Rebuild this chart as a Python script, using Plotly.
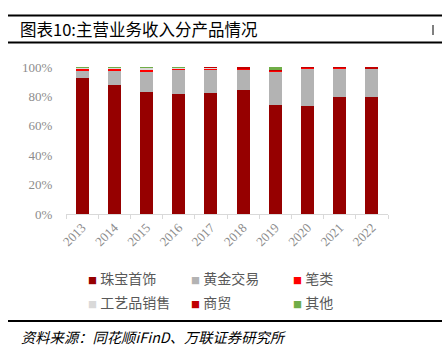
import plotly.graph_objects as go

years = ['2013', '2014', '2015', '2016', '2017', '2018', '2019', '2020', '2021', '2022']
jewelry = [92.2, 88.0, 83.3, 81.4, 82.0, 84.1, 74.3, 73.8, 79.8, 79.8]
gold = [5.2, 9.5, 13.6, 16.8, 16.6, 14.5, 22.4, 25.3, 19.3, 19.0]
pen = [1.4, 1.4, 1.4, 0.8, 0.5, 0.3, 0.7, 0.6, 0.7, 0.3]
craft = [0.8, 0.8, 1.2, 0.6, 0.3, 0.2, 0.1, 0.2, 0.1, 0.2]
trade = [0.3, 0.2, 0.4, 0.3, 0.6, 0.9, 0.5, 0.1, 0.1, 0.7]
other = [0.1, 0.1, 0.1, 0.1, 0.0, 0.0, 2.0, 0.0, 0.0, 0.0]

y_ticks = [0, 20, 40, 60, 80, 100]
y_tick_labels = ['0%', '20%', '40%', '60%', '80%', '100%']

names = ['珠宝首饰', '黄金交易', '笔类', '工艺品销售', '商贸', '其他']
colors = ['#960000', '#B3B3B3', '#FF0000', '#D9D9D9', '#C00000', '#70AD47']
series = [jewelry, gold, pen, craft, trade, other]

W, H = 442, 348
L, R, T, B = 66, 54, 67, 134
PW, PH = W - L - R, H - T - B

def px_x(x):
    return (x - L) / PW

def px_y(y):
    return (H - B - y) / PH

fig = go.Figure()
for name, color, vals in zip(names, colors, series):
    fig.add_trace(go.Bar(x=years, y=vals, name=name, marker_color=color,
                         marker_line_width=0, width=0.4, showlegend=False))

tick_font = dict(family='Liberation Serif, Times New Roman, serif', size=13, color='#8C8C8C')

fig.update_layout(
    width=W, height=H, barmode='stack',
    margin=dict(l=L, r=R, t=T, b=B, pad=0),
    plot_bgcolor='white', paper_bgcolor='white',
    xaxis=dict(showline=True, linecolor='#D9D9D9', linewidth=1, ticks='outside',
               tickson='boundaries', ticklen=4, tickcolor='#D9D9D9',
               tickangle=-45, tickfont=tick_font, showgrid=False),
    yaxis=dict(range=[0, 100], tickmode='array', tickvals=y_ticks, ticktext=y_tick_labels,
               showgrid=False, zeroline=False, showline=False, ticks='outside',
               ticklen=10, tickcolor='rgba(0,0,0,0)', tickfont=tick_font),
)

shapes = [
    dict(type='line', xref='paper', yref='paper', x0=px_x(8), x1=px_x(442), y0=px_y(15.5), y1=px_y(15.5),
         line=dict(color='black', width=2.2)),
    dict(type='line', xref='paper', yref='paper', x0=px_x(8), x1=px_x(442), y0=px_y(42.5), y1=px_y(42.5),
         line=dict(color='black', width=2.2)),
    dict(type='line', xref='paper', yref='paper', x0=px_x(433), x1=px_x(433), y0=px_y(25), y1=px_y(35),
         line=dict(color='black', width=1)),
    dict(type='line', xref='paper', yref='paper', x0=px_x(8), x1=px_x(442), y0=px_y(321), y1=px_y(321),
         line=dict(color='black', width=2.2)),
]
fig.update_layout(shapes=shapes)

ann = []
ann.append(dict(text='图表10:主营业务收入分产品情况', x=px_x(18), y=px_y(29), xref='paper', yref='paper',
                xanchor='left', yanchor='middle', showarrow=False,
                font=dict(family='Noto Sans CJK SC', size=16.5, color='black')))
ann.append(dict(text='<i>资料来源：同花顺iFinD、万联证券研究所</i>', x=px_x(19), y=px_y(336), xref='paper', yref='paper',
                xanchor='left', yanchor='middle', showarrow=False,
                font=dict(family='Noto Sans CJK SC', size=14.3, color='black')))

col_x = [86, 189, 291]
row_y = [278, 302]
for i, (name, color) in enumerate(zip(names, colors)):
    r, c = divmod(i, 3)
    ann.append(dict(text=f'<span style="color:{color};font-size:9px">■</span> {name}',
                    x=px_x(col_x[c]), y=px_y(row_y[r]), xref='paper', yref='paper',
                    xanchor='left', yanchor='middle', showarrow=False,
                    font=dict(family='Noto Sans CJK SC', size=14, color='#595959')))
fig.update_layout(annotations=ann)

fig.write_html('out.html')
